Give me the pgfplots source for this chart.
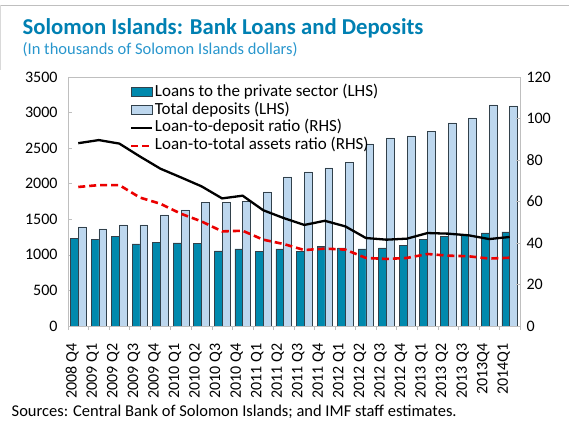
\documentclass[border=0pt]{standalone}
\usepackage{fontspec}
\setmainfont{Carlito}
\usepackage{pgfplots}
\pgfplotsset{compat=1.18}
\definecolor{titleblue}{RGB}{0,128,178}
\definecolor{subblue}{RGB}{40,150,205}
\definecolor{loanc}{RGB}{0,137,173}
\definecolor{depc}{RGB}{189,215,238}
\definecolor{barline}{RGB}{50,65,75}
\definecolor{axgray}{RGB}{191,191,191}
\definecolor{redl}{RGB}{235,0,0}
\begin{document}
\begin{tikzpicture}
\path[use as bounding box] (0,0) rectangle (569bp,422bp);
\draw[color=axgray, line width=0.8bp] (0bp,417bp) -- (569bp,417bp);
\draw[color=axgray!60, line width=0.8bp] (0.5bp,417bp) -- (0.5bp,352bp);
\node[anchor=base west, text=titleblue, font=\fontsize{22.7bp}{26bp}\selectfont\bfseries, inner sep=0] at (22.5bp,387bp) {Solomon Islands: Bank Loans and Deposits};
\node[anchor=base west, text=subblue, font=\fontsize{16.5bp}{19bp}\selectfont, inner sep=0] at (22.5bp,367bp) {(In thousands of Solomon Islands dollars)};
\node[anchor=base west, text=black, font=\fontsize{16.5bp}{19bp}\selectfont, inner sep=0] at (11.5bp,5.3bp) {Sources: Central Bank of Solomon Islands; and IMF staff estimates.};
\begin{axis}[
  at={(68bp,96bp)}, anchor=south west, scale only axis,
  width=452bp, height=249bp,
  xmin=-0.5, xmax=21.5, ymin=0, ymax=3500,
  ybar=0pt, bar width=0.38,
  xtick={0,...,21},
  xticklabels={2008 Q4,2009 Q1,2009 Q2,2009 Q3,2009 Q4,2010 Q1,2010 Q2,2010 Q3,2010 Q4,2011 Q1,2011 Q2,2011 Q3,2011 Q4,2012 Q1,2012 Q2,2012 Q3,2012 Q4,2013 Q1,2013 Q2,2013 Q3,2013Q4,2014Q1},
  xticklabel style={xshift=-6bp, yshift=-10bp, rotate=90, anchor=east, font=\fontsize{16bp}{18bp}\selectfont},
  major x tick style={draw=none},
  minor xtick={-0.5,0.5,...,21.5},
  xtick pos=bottom, ytick pos=left,
  ytick={0,500,...,3500},
  yticklabel style={font=\fontsize{16bp}{18bp}\selectfont, xshift=-7bp},
  /pgf/number format/assume math mode=true,
  /pgf/number format/1000 sep={},
  axis line style={axgray, line width=0.8bp},
  tick style={axgray, line width=0.6bp},
  major tick length=4bp, minor tick length=4bp,
]
\addplot[fill=loanc, draw=barline, line width=0.6bp] coordinates {
(0,1226) (1,1216) (2,1254) (3,1155) (4,1178) (5,1169) (6,1160) (7,1057) (8,1085) (9,1047) (10,1085)
(11,1047) (12,1118) (13,1099) (14,1085) (15,1099) (16,1132) (17,1216) (18,1254) (19,1272) (20,1310) (21,1324)};
\addplot[fill=depc, draw=barline, line width=0.6bp] coordinates {
(0,1394) (1,1366) (2,1422) (3,1422) (4,1563) (5,1633) (6,1732) (7,1732) (8,1746) (9,1886) (10,2097)
(11,2167) (12,2223) (13,2294) (14,2561) (15,2645) (16,2673) (17,2734) (18,2856) (19,2926) (20,3109) (21,3095)};
\end{axis}
\begin{axis}[
  at={(68bp,96bp)}, anchor=south west, scale only axis,
  width=452bp, height=249bp,
  xmin=-0.5, xmax=21.5, ymin=0, ymax=120,
  axis x line=none, axis y line*=right,
  ytick={0,20,...,120},
  yticklabel style={font=\fontsize{16bp}{18bp}\selectfont, xshift=3bp},
  /pgf/number format/assume math mode=true,
  axis line style={axgray, line width=0.8bp},
  tick style={axgray, line width=0.6bp},
  major tick length=4bp,
  legend style={at={(0.137,0.976)}, anchor=north west, draw=none, fill=none,
    font=\fontsize{17bp}{19bp}\selectfont, row sep=0bp, inner sep=0bp,
    nodes={inner xsep=1.2bp, inner ysep=0.95bp, text height=12bp, text depth=4bp}},
  legend cell align=left,
]
\addlegendimage{legend image code/.code={\draw[fill=loanc, draw=barline, line width=0.6bp] (0bp,-4.5bp) rectangle (21bp,4.5bp);}}
\addlegendentry{Loans to the private sector (LHS)}
\addlegendimage{legend image code/.code={\draw[fill=depc, draw=barline, line width=0.6bp] (0bp,-4.5bp) rectangle (21bp,4.5bp);}}
\addlegendentry{Total deposits (LHS)}
\addplot[black, line width=2.3bp, legend image code/.code={\draw[black, line width=2.3bp] (0bp,0bp) -- (21bp,0bp);}] coordinates {
(0,88.1) (1,89.6) (2,87.9) (3,81.7) (4,75.8) (5,71.6) (6,67.3) (7,61.5) (8,62.8) (9,55.8) (10,52.0)
(11,48.7) (12,50.7) (13,48.0) (14,42.4) (15,41.6) (16,42.1) (17,44.8) (18,44.5) (19,43.7) (20,41.9) (21,42.9)};
\addlegendentry{Loan-to-deposit ratio (RHS)}
\addplot[redl, line width=2.6bp, dash pattern=on 7bp off 4bp, legend image code/.code={\draw[redl, line width=2.6bp, dash pattern=on 7bp off 4bp] (0bp,0bp) -- (21bp,0bp);}] coordinates {
(0,67.0) (1,67.9) (2,67.9) (3,61.9) (4,58.9) (5,54.1) (6,50.4) (7,45.6) (8,45.9) (9,41.6) (10,39.5)
(11,36.6) (12,37.3) (13,36.8) (14,32.8) (15,32.3) (16,32.8) (17,34.7) (18,33.9) (19,33.6) (20,32.5) (21,32.9)};
\addlegendentry{Loan-to-total assets ratio (RHS)}
\end{axis}
\end{tikzpicture}
\end{document}
